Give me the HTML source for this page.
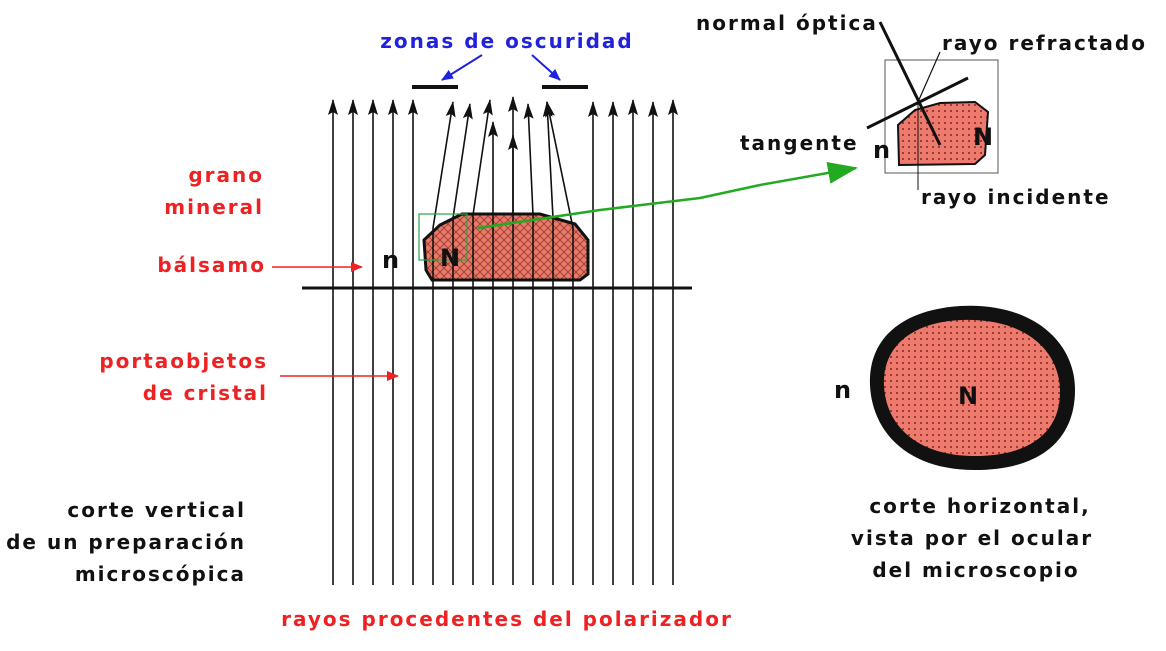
<!DOCTYPE html>
<html><head><meta charset="utf-8"><style>
body{margin:0;background:#fff;}
svg text{font-family:"DejaVu Sans","Liberation Sans",sans-serif;font-weight:bold;font-size:20px;letter-spacing:2px;}
</style></head><body>
<svg width="1166" height="646" viewBox="0 0 1166 646" xmlns="http://www.w3.org/2000/svg">
<defs>
<marker id="ah" markerWidth="16" markerHeight="10" refX="15" refY="5" orient="auto" markerUnits="userSpaceOnUse" viewBox="0 0 16 10">
<path d="M16 5 L0 0 L3 5 L0 10Z" fill="#111"/></marker>
<marker id="rh" markerWidth="12" markerHeight="10" refX="11" refY="5" orient="auto" markerUnits="userSpaceOnUse"><path d="M0 0 L12 5 L0 10Z" fill="#e22"/></marker>
<marker id="bh" markerWidth="12" markerHeight="10" refX="11" refY="5" orient="auto" markerUnits="userSpaceOnUse"><path d="M0 0 L12 5 L0 10Z" fill="#22d"/></marker>
<marker id="gh" markerWidth="30" markerHeight="22" refX="28" refY="11" orient="auto" markerUnits="userSpaceOnUse"><path d="M0 0 L30 11 L0 22Z" fill="#2a2"/></marker>
<pattern id="hat" width="8" height="8" patternUnits="userSpaceOnUse"><rect width="8" height="8" fill="#e87a6a"/><path d="M0 8L8 0M0 0L8 8" stroke="#9a3a30" stroke-width="0.8"/></pattern>
<pattern id="dot" width="6" height="6" patternUnits="userSpaceOnUse"><rect width="6" height="6" fill="#ee7a6e"/><circle cx="3" cy="3" r="1" fill="#7a2a22"/></pattern>
</defs>
<path d="M432 280 L426 270 L424 240 L440 225 L462 214 L540 214 L575 224 L588 240 L588 274 L580 280Z" fill="url(#hat)" stroke="#111" stroke-width="3"/>
<g stroke="#111" stroke-width="1.6" fill="none" marker-end="url(#ah)">
<line x1="333" y1="585" x2="333" y2="100"/><line x1="353" y1="585" x2="353" y2="100"/><line x1="373" y1="585" x2="373" y2="100"/><line x1="393" y1="585" x2="393" y2="100"/><line x1="413" y1="585" x2="413" y2="100"/>
<line x1="593" y1="585" x2="593" y2="102"/><line x1="613" y1="585" x2="613" y2="102"/><line x1="633" y1="585" x2="633" y2="100"/><line x1="653" y1="585" x2="653" y2="102"/><line x1="673" y1="585" x2="673" y2="100"/>
<polyline points="433,585 433,228 453,102"/>
<polyline points="453,585 453,218 470,104"/>
<polyline points="473,585 473,215 490,100"/>
<polyline points="493,585 493,122"/>
<polyline points="513,585 513,97"/>
<polyline points="533,585 533,215 528,104"/>
<polyline points="553,585 553,218 547,102"/>
<polyline points="573,585 573,228 547,102"/>
</g>
<line x1="513" y1="215" x2="513" y2="135" stroke="#111" stroke-width="1.6" marker-end="url(#ah)"/>
<line x1="302" y1="288" x2="692" y2="288" stroke="#111" stroke-width="3"/>
<line x1="412" y1="87" x2="458" y2="87" stroke="#111" stroke-width="4"/>
<line x1="542" y1="87" x2="588" y2="87" stroke="#111" stroke-width="4"/>
<line x1="482" y1="55" x2="442" y2="80" stroke="#22d" stroke-width="2" marker-end="url(#bh)"/>
<line x1="532" y1="55" x2="560" y2="80" stroke="#22d" stroke-width="2" marker-end="url(#bh)"/>
<rect x="419" y="214" width="48" height="46" fill="none" stroke="#2a4" stroke-width="1.2"/>
<path d="M478 228 L600 210 L700 198 L760 185 L856 168" stroke="#2a2" stroke-width="2.5" fill="none" marker-end="url(#gh)"/>
<line x1="272" y1="267" x2="362" y2="267" stroke="#e22" stroke-width="1.5" marker-end="url(#rh)"/>
<line x1="280" y1="376" x2="398" y2="376" stroke="#e22" stroke-width="1.5" marker-end="url(#rh)"/>
<rect x="885" y="60" width="113" height="113" fill="none" stroke="#555" stroke-width="1"/>
<path d="M899 165 L898 125 L915 110 L940 103 L975 102 L988 112 L985 155 L975 164Z" fill="url(#dot)" stroke="#111" stroke-width="2"/>
<line x1="918" y1="102" x2="918" y2="190" stroke="#111" stroke-width="1"/>
<line x1="880" y1="22" x2="940" y2="145" stroke="#111" stroke-width="3"/>
<line x1="867" y1="128" x2="968" y2="78" stroke="#111" stroke-width="3"/>
<line x1="918" y1="102" x2="940" y2="52" stroke="#111" stroke-width="1.2"/>
<path d="M870 385 C868 340 900 310 960 306 C1030 302 1075 340 1075 390 C1075 440 1040 470 975 470 C905 470 872 430 870 385Z" fill="#111"/>
<path d="M884 386 C882 348 910 322 962 320 C1025 318 1060 350 1060 392 C1060 432 1030 456 975 456 C915 456 886 424 884 386Z" fill="url(#dot)"/>
<text x="507" y="48" fill="#22d" text-anchor="middle">zonas de oscuridad</text>
<text x="264" y="182" fill="#e22" text-anchor="end">grano</text>
<text x="264" y="214" fill="#e22" text-anchor="end">mineral</text>
<text x="266" y="272" fill="#e22" text-anchor="end">bálsamo</text>
<text x="268" y="368" fill="#e22" text-anchor="end">portaobjetos</text>
<text x="268" y="400" fill="#e22" text-anchor="end">de cristal</text>
<text x="246" y="517" fill="#111" text-anchor="end">corte vertical</text>
<text x="246" y="549" fill="#111" text-anchor="end">de un preparación</text>
<text x="246" y="581" fill="#111" text-anchor="end">microscópica</text>
<text x="507" y="626" fill="#e22" text-anchor="middle">rayos procedentes del polarizador</text>
<text x="382" y="268" fill="#111" style="font-size:24px;letter-spacing:0">n</text>
<text x="440" y="266" fill="#111" style="font-size:24px;letter-spacing:0">N</text>
<text x="696" y="30" fill="#111">normal óptica</text>
<text x="942" y="50" fill="#111">rayo refractado</text>
<text x="740" y="150" fill="#111">tangente</text>
<text x="873" y="158" fill="#111" style="font-size:24px;letter-spacing:0">n</text>
<text x="973" y="145" fill="#111" style="font-size:24px;letter-spacing:0">N</text>
<text x="921" y="204" fill="#111">rayo incidente</text>
<text x="834" y="398" fill="#111" style="font-size:24px;letter-spacing:0">n</text>
<text x="958" y="404" fill="#111" style="font-size:24px;letter-spacing:0">N</text>
<text x="980" y="513" fill="#111" text-anchor="middle">corte horizontal,</text>
<text x="972" y="545" fill="#111" text-anchor="middle">vista por el ocular</text>
<text x="976" y="577" fill="#111" text-anchor="middle">del microscopio</text>
</svg>
</body></html>
